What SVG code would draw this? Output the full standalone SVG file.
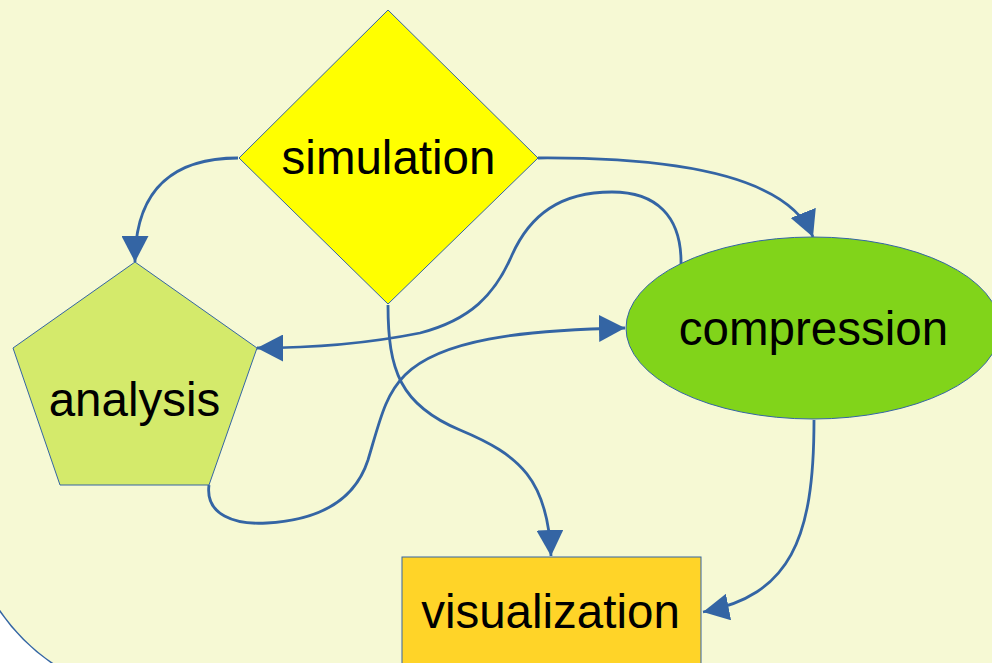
<svg xmlns="http://www.w3.org/2000/svg" width="992" height="663" viewBox="0 0 992 663">
<style>
.node{stroke:#3465a4;stroke-width:1}
.lbl{font-family:"Liberation Sans",Arial,sans-serif;font-size:47.5px;fill:#000;text-anchor:middle}
.conn{fill:none;stroke:#3465a4;stroke-width:2.8;marker-end:url(#arr)}
</style>
<defs>
<marker id="arr" markerUnits="userSpaceOnUse" markerWidth="26" markerHeight="27" refX="26" refY="13.5" orient="auto" viewBox="0 0 26 27">
<path d="M0,0 L26,13.5 L0,27 z" fill="#3465a4"/>
</marker>
</defs>
<rect width="992" height="663" fill="#ffffff"/>
<rect id="background" x="-35" y="-300" width="1300" height="998" rx="200" ry="200" fill="#f6f9d4" stroke="#3465a4" stroke-width="1.5"/>
<g id="connectors">
<path class="conn" d="M238,158 C178,158 135,185 135,262"/>
<path class="conn" d="M538,158 C690,157 790,180 813,237"/>
<path class="conn" d="M681,265 C682,215 655,192 612,192 C560,192 530,215 512,255 C495,295 470,320 420,333 C360,345 300,348 257,348"/>
<path class="conn" d="M209,485 C205,515 235,525 267,523 C320,520 355,500 368,460 C380,420 385,395 405,375 C440,340 520,330 625,328"/>
<path class="conn" d="M388,305 C388,370 400,405 460,430 C520,455 548,480 551,556"/>
<path class="conn" d="M814,420 C814,540 790,595 703,612"/>
</g>
<g id="simulation">
<polygon class="node" points="388,10 538,158 388,304 239,158" fill="#ffff00"/>
<text class="lbl" x="388.5" y="174">simulation</text>
</g>
<g id="analysis">
<polygon class="node" points="135,262 257,348 209,485 60,485 13,348" fill="#d4ea6b"/>
<text class="lbl" x="134.5" y="416">analysis</text>
</g>
<g id="compression">
<ellipse class="node" cx="813" cy="328" rx="187" ry="91" fill="#81d41a"/>
<text class="lbl" x="813.5" y="345">compression</text>
</g>
<g id="visualization">
<rect class="node" x="402" y="557" width="299" height="120" fill="#ffd428"/>
<text class="lbl" x="550.5" y="628">visualization</text>
</g>
</svg>
